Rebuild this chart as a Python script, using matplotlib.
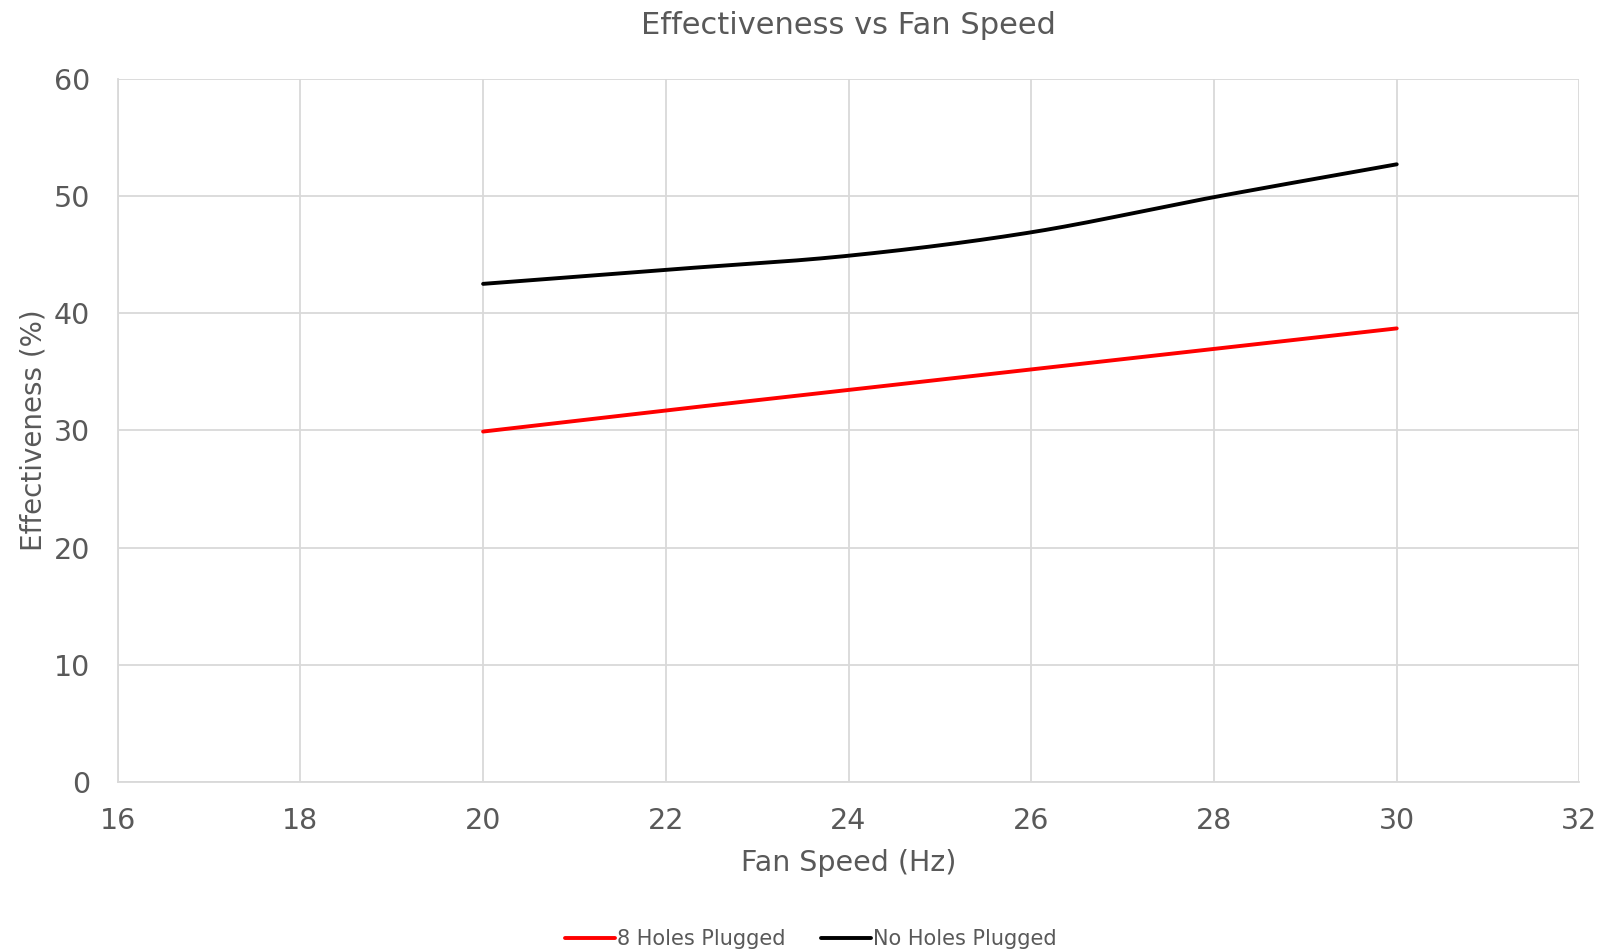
import numpy as np
import matplotlib
matplotlib.use("Agg")
import matplotlib.pyplot as plt

# values
fan_speed = [20, 22, 24, 26, 28, 30]
holes_8 = [29.9, 31.7, 33.45, 35.2, 36.95, 38.7]
holes_0 = [42.5, 43.7, 44.9, 46.9, 49.9, 52.7]
x_ticks = [16, 18, 20, 22, 24, 26, 28, 30, 32]
y_ticks = [0, 10, 20, 30, 40, 50, 60]

TEXT = "#595959"
GRID = "#d9d9d9"


def excel_smooth(x, y, n=40):
    """Bezier smoothing like Excel's 'smoothed line' option."""
    p = np.column_stack([x, y]).astype(float)
    out = [p[0]]
    for i in range(len(p) - 1):
        p0 = p[i - 1] if i > 0 else p[i]
        p3 = p[i + 2] if i + 2 < len(p) else p[i + 1]
        c1 = p[i] + (p[i + 1] - p0) / 6
        c2 = p[i + 1] - (p3 - p[i]) / 6
        t = np.linspace(0, 1, n)[1:, None]
        seg = ((1 - t) ** 3) * p[i] + 3 * ((1 - t) ** 2) * t * c1 \
            + 3 * (1 - t) * t ** 2 * c2 + t ** 3 * p[i + 1]
        out.extend(seg)
    out = np.array(out)
    return out[:, 0], out[:, 1]


plt.rcParams["font.family"] = ["DejaVu Sans"]

fig = plt.figure(figsize=(16.03, 9.51), dpi=100)
ax = fig.add_axes([0.0734, 0.1777, 0.9119, 0.7395])

sx, sy = excel_smooth(fan_speed, holes_8)
ax.plot(sx, sy, color="#ff0000", lw=2.8, label="8 Holes Plugged", solid_capstyle="round")
sx, sy = excel_smooth(fan_speed, holes_0)
ax.plot(sx, sy, color="#000000", lw=2.8, label="No Holes Plugged", solid_capstyle="round")

ax.set_xlim(16, 32)
ax.set_ylim(0, 60)
ax.set_xticks(x_ticks)
ax.set_yticks(y_ticks)
ax.grid(True, color=GRID, lw=1.3)
ax.set_axisbelow(True)
for side in ["top", "right"]:
    ax.spines[side].set_visible(False)
ax.spines["left"].set_color(GRID)
ax.spines["bottom"].set_color(GRID)
ax.spines["left"].set_linewidth(1.3)
ax.spines["bottom"].set_linewidth(1.3)
ax.tick_params(length=0, labelsize=20.5, colors=TEXT)
ax.tick_params(axis="x", pad=18)
ax.tick_params(axis="y", pad=20)

ax.set_title("Effectiveness vs Fan Speed", fontsize=22, color=TEXT, pad=32)
ax.set_xlabel("Fan Speed (Hz)", fontsize=20.5, color=TEXT, labelpad=10)
ax.set_ylabel("Effectiveness (%)", fontsize=20, color=TEXT, labelpad=4)

fig.legend(loc="lower center", bbox_to_anchor=(0.506, -0.018), ncol=2, frameon=False,
           fontsize=15, labelcolor=TEXT, handlelength=2.4, handletextpad=0.1,
           columnspacing=1.7)

fig.savefig("out.png", dpi=100)
